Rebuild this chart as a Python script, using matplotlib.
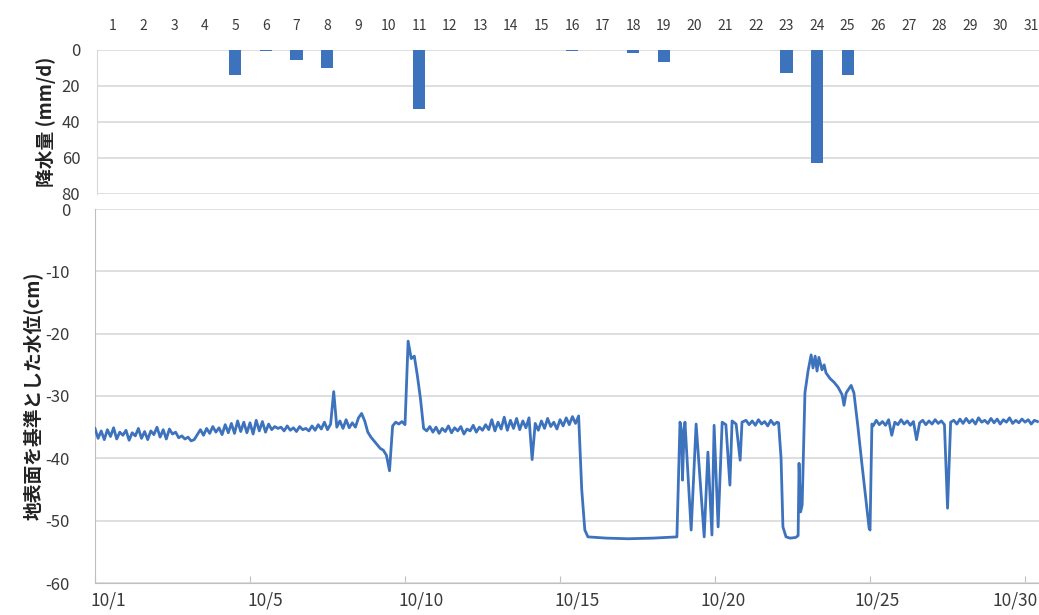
import numpy as np
import matplotlib
matplotlib.use("Agg")
from matplotlib import pyplot as plt
from matplotlib.transforms import ScaledTranslation

plt.rcParams['font.family'] = ['Noto Sans CJK JP', 'DejaVu Sans']
plt.rcParams['axes.unicode_minus'] = False

# 日降水量 (mm/d)
rain_days = [5, 6, 7, 8, 11, 16, 18, 19, 23, 24, 25]
rain_mm = [14, 0.6, 5.5, 10, 33, 0.5, 1.5, 6.5, 13, 63, 14]
day_labels = [str(d) for d in range(1, 32)]
rain_ticks = [0, 20, 40, 60, 80]

# 水位 (cm) 10/1 からの経過日数
lvl_a = [-35.2, -36.8, -35.6, -37.0, -35.4, -36.5, -35.1, -36.9, -35.8, -36.3,
         -35.5, -37.1, -35.9, -36.4, -35.2, -36.8, -35.7, -37.0, -35.6, -36.2,
         -35.0, -36.6, -35.4, -36.9, -35.3, -36.1, -35.8, -36.7, -36.4, -36.9,
         -36.6, -37.2, -37.0, -36.2, -35.4, -36.3, -35.2, -36.0, -34.9, -35.8,
         -35.1, -36.2, -34.6, -35.9, -34.4, -36.0, -34.0, -35.7, -34.2, -35.9,
         -34.3, -36.1, -33.9, -35.6, -34.1, -35.8, -34.5, -35.4, -34.9, -35.2,
         -35.0, -35.6, -34.8, -35.5, -35.1, -35.7, -34.9, -35.4, -35.2, -35.6,
         -34.8, -35.5, -34.6, -35.3, -34.2, -35.4, -34.5,
         -29.3,
         -35.0, -34.0, -35.2, -33.8, -35.1, -34.3, -35.0,
         -33.5, -32.8, -34.0, -35.8, -36.6, -37.2, -37.8, -38.4, -38.7, -39.5, -42.0,
         -34.8, -34.2, -34.5, -34.1, -34.6,
         -21.2, -24.0, -23.6, -26.8, -30.5, -35.2]
lvl_b = [-35.6, -34.9, -35.8, -35.0, -36.0, -35.2, -35.7, -34.8, -35.9, -35.1,
         -35.6, -34.9, -36.1, -35.3, -35.6, -34.7, -35.8, -35.0, -35.5, -34.6,
         -35.4, -33.8, -35.6, -34.2, -35.3, -33.4, -35.5, -33.9, -35.2, -33.6,
         -35.4, -34.0, -35.1, -33.5,
         -40.2,
         -34.4, -35.5, -34.0, -35.2, -33.6, -34.9, -34.2, -35.3, -33.8, -34.8,
         -33.5, -34.6, -33.3, -34.4,
         -33.2, -45.0, -51.5, -52.6]
t_c = [16.5, 17.2, 18.0, 18.77, 18.87, 18.92, 18.95, 19.0, 19.03, 19.23, 19.39,
       19.65, 19.77, 19.90, 19.97, 20.10, 20.23, 20.35, 20.48, 20.55, 20.68,
       20.81, 20.87]
lvl_c = [-52.8, -52.9, -52.8, -52.6, -34.2, -35.5, -43.5, -36.0, -34.2, -51.5, -34.5,
         -52.6, -39.0, -52.3, -34.7, -51.0, -34.2, -34.6, -44.3, -34.0, -34.5,
         -40.3, -34.2]
lvl_d = [-33.9, -34.6, -34.0, -34.7, -33.8, -34.5, -34.1, -34.8, -33.9, -34.6, -34.2]
t_e = [22.05, 22.13, 22.19, 22.29, 22.42, 22.6, 22.68, 22.71, 22.76, 22.81, 22.90,
       23.0, 23.10, 23.16, 23.23, 23.29, 23.35, 23.45, 23.52, 23.58, 23.71, 23.84,
       23.97, 24.10, 24.16, 24.23, 24.39, 24.48, 24.61, 24.74, 24.87, 24.97, 25.0,
       25.06]
lvl_e = [-34.3, -40.0, -51.0, -52.6, -52.8, -52.7, -52.4, -40.8, -48.6, -47.5, -29.5,
         -26.0, -23.4, -25.5, -23.6, -26.0, -23.8, -25.8, -25.0, -26.3, -27.2, -27.8,
         -28.6, -29.8, -31.5, -29.5, -28.3, -29.5, -35.0, -41.0, -46.7, -51.2, -51.5,
         -34.5]
lvl_f = [-34.8, -33.9, -34.6, -34.1, -34.7, -33.8, -36.3, -34.2, -34.6,
         -33.8, -34.5, -34.0, -34.7, -34.1, -37.0, -34.3, -33.9, -34.6, -34.0,
         -34.5, -33.8, -34.4, -34.0, -34.6, -48.0, -34.2, -33.9, -34.5, -33.7,
         -34.4, -33.6, -34.3, -33.8, -34.5, -33.5, -34.2, -33.9, -34.4, -33.6,
         -34.3, -33.7, -34.5, -33.8, -34.2, -33.5, -34.4, -33.9, -34.3, -33.7,
         -34.2, -33.8, -34.5, -33.9, -34.1]

date_ticks = [0, 5, 10, 15, 20, 25, 30]
date_labels = ["10/1", "10/5", "10/10", "10/15", "10/20", "10/25", "10/30"]
label_shift_px = [13, 15, 16, 17, 8, 7, -10]
level_ticks = [0, -10, -20, -30, -40, -50, -60]

# 0.1日毎に読んだ値
t_a = 0.0 + 0.1 * np.arange(len(lvl_a))
t_b = 10.7 + 0.1 * np.arange(len(lvl_b))
t_d = 21.0 + 0.1 * np.arange(len(lvl_d))
t_f = 25.1 + 0.1 * np.arange(len(lvl_f))
t_all = np.concatenate([t_a, t_b, t_c, t_d, t_e, t_f])
lvl_all = np.concatenate([lvl_a, lvl_b, lvl_c, lvl_d, lvl_e, lvl_f])

blue = "#3d72bd"
grid = "#d9d9d9"
txt = "#3a3a3a"

fig = plt.figure(figsize=(10.39, 6.15), dpi=100)

# 上: 降水量
ax1 = fig.add_axes([97 / 1039, 1 - 194 / 615, 942 / 1039, 144 / 615])
ax1.bar(rain_days, rain_mm, width=0.4, color=blue, zorder=3)
ax1.set_xlim(0.48, 31.25)
ax1.set_ylim(80, 0)
ax1.set_yticks(rain_ticks)
ax1.set_xticks(range(1, 32))
ax1.set_xticklabels(day_labels)
ax1.xaxis.tick_top()
ax1.tick_params(axis='x', length=0, pad=12, labelsize=10, labelcolor=txt)
ax1.tick_params(axis='y', length=0, pad=12, labelsize=12, labelcolor=txt)
ax1.grid(axis='y', color=grid, linewidth=1.2, zorder=0)
for s in ['top', 'right', 'bottom']:
    ax1.spines[s].set_visible(False)
ax1.spines['left'].set_color(grid)
ax1.set_ylabel("降水量 (mm/d)", fontsize=13.5, fontweight='bold', color='#222222', labelpad=4)

# 下: 水位
ax2 = fig.add_axes([95 / 1039, 1 - 583 / 615, 944 / 1039, 374 / 615])
ax2.plot(t_all, lvl_all, color=blue, linewidth=2.0, zorder=3)
ax2.set_xlim(0, 30.45)
ax2.set_ylim(-60, 0)
ax2.set_yticks(level_ticks)
ax2.set_xticks(date_ticks)
ax2.set_xticklabels(date_labels)
ax2.tick_params(axis='x', direction='in', length=5, color='#bfbfbf', pad=6,
                labelsize=12.5, labelcolor=txt)
ax2.tick_params(axis='y', length=0, pad=18, labelsize=12, labelcolor=txt)
ax2.grid(axis='y', color=grid, linewidth=1.2, zorder=0)
for s in ['top', 'right']:
    ax2.spines[s].set_visible(False)
ax2.spines['left'].set_color('#bfbfbf')
ax2.spines['bottom'].set_color('#bfbfbf')
ax2.set_ylabel("地表面を基準とした水位(cm)", fontsize=13.5, fontweight='bold', color='#222222',
               labelpad=2)
for lab, dx in zip(ax2.get_xticklabels(), label_shift_px):
    lab.set_transform(lab.get_transform() + ScaledTranslation(dx / 100, 0, fig.dpi_scale_trans))

fig.savefig("out.png", dpi=100)
